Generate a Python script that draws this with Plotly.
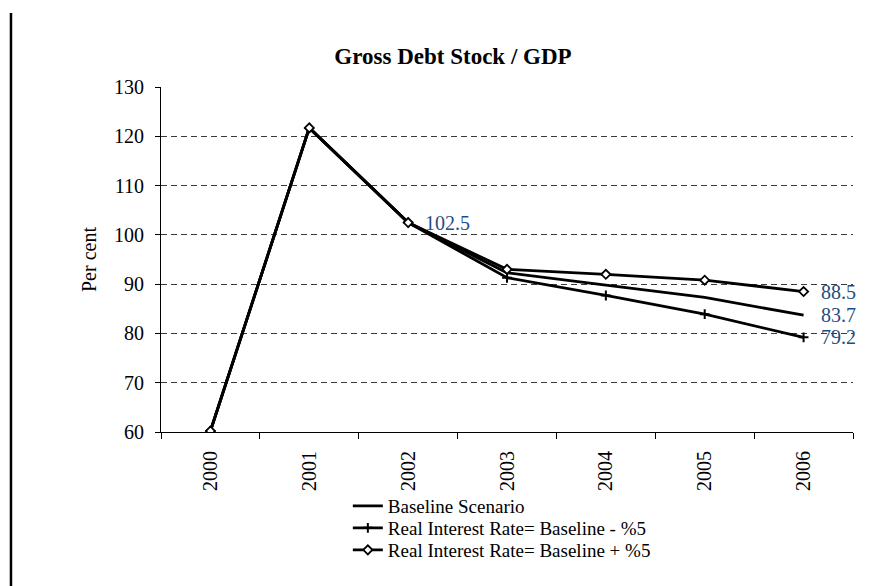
import plotly.graph_objects as go

years = ["2000", "2001", "2002", "2003", "2004", "2005", "2006"]
baseline = [60.2, 121.7, 102.5, 92.3, 89.8, 87.3, 83.7]
rate_minus = [60.2, 121.7, 102.5, 91.3, 87.7, 83.9, 79.2]
rate_plus = [60.2, 121.7, 102.5, 93.0, 92.0, 90.8, 88.5]
names = ["Baseline Scenario", "Real Interest Rate= Baseline - %5", "Real Interest Rate= Baseline + %5"]
y_ticks = [60, 70, 80, 90, 100, 110, 120, 130]

# data labels: (year index, series)
labels = [(2, baseline), (6, rate_plus), (6, baseline), (6, rate_minus)]

FONT = "Liberation Serif"
LBL = "#1f4e80"

fig = go.Figure()
fig.add_trace(go.Scatter(x=years, y=baseline, name=names[0], mode="lines", legend="legend",
                         line=dict(color="black", width=2.8)))
fig.add_trace(go.Scatter(x=years, y=rate_minus, name=names[1], mode="lines+markers", legend="legend2",
                         line=dict(color="black", width=2.8),
                         marker=dict(symbol="cross-thin", size=7, line=dict(color="black", width=2))))
fig.add_trace(go.Scatter(x=years, y=rate_plus, name=names[2], mode="lines+markers", legend="legend3",
                         line=dict(color="black", width=2.8),
                         marker=dict(symbol="diamond", size=7, color="white",
                                     line=dict(color="black", width=1.8))))

annotations = [
    dict(x=i, y=s[i], xref="x", yref="y", text=f"{s[i]:.1f}", showarrow=False,
         xanchor="left", yanchor="middle", xshift=15,
         font=dict(family=FONT, size=20, color=LBL))
    for i, s in labels
]

shapes = [
    # chart-area left border (decoration)
    dict(type="line", xref="paper", yref="paper", x0=-0.2168, x1=-0.2168,
         y0=1.2145, y1=-0.47, line=dict(color="black", width=2.5)),
]

def legend_at(ypx):
    return dict(x=0.27, y=(432 - ypx) / 345, xanchor="left", yanchor="middle",
                bgcolor="rgba(0,0,0,0)", borderwidth=0,
                font=dict(family=FONT, size=19, color="black"))

fig.update_layout(
    width=883, height=586,
    margin=dict(l=161, r=30, t=87, b=154, autoexpand=False),
    paper_bgcolor="white", plot_bgcolor="white",
    font=dict(family=FONT, color="black", size=20),
    title=dict(text="<b>Gross Debt Stock / GDP</b>", xref="container", x=0.513, xanchor="center",
               yref="container", y=1 - 56 / 586, yanchor="middle",
               font=dict(family=FONT, size=23, color="black")),
    showlegend=True,
    legend=legend_at(506),
    legend2=legend_at(528),
    legend3=legend_at(550),
    annotations=annotations,
    shapes=shapes,
    xaxis=dict(type="category", showline=True, linecolor="black", linewidth=1,
               ticks="outside", ticklen=6, tickcolor="black", tickson="boundaries",
               tickangle=-90, showgrid=False, tickfont=dict(family=FONT, size=20),
               ticklabelstandoff=10, range=[-0.5, 6.5]),
    yaxis=dict(range=[60, 130], tickvals=y_ticks, showline=True, linecolor="black", linewidth=1,
               ticks="outside", ticklen=5, tickcolor="black", showgrid=True,
               gridcolor="#3a3a3a", gridwidth=1, griddash="6px,4px", zeroline=False,
               tickfont=dict(family=FONT, size=20), ticklabelstandoff=7,
               title=dict(text="Per cent", font=dict(family=FONT, size=20), standoff=12)),
)

fig.write_html("out.html")
